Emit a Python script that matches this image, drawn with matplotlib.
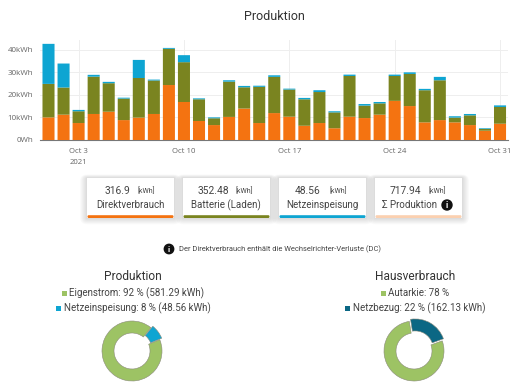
import matplotlib
matplotlib.use("Agg")
import matplotlib.pyplot as plt
from matplotlib.patches import Rectangle, Circle, FancyBboxPatch
import numpy as np

plt.rcParams['font.family'] = ['Roboto', 'DejaVu Sans']

# daily values in kWh
days = list(range(1, 32))
direkt = [10.0, 11.2, 7.5, 11.5, 12.5, 8.8, 9.9, 11.5, 24.3, 16.8, 8.4, 6.6, 10.2, 13.9, 7.5, 11.9,
          10.3, 6.3, 7.5, 5.2, 10.3, 9.7, 11.2, 17.3, 15.0, 7.8, 8.8, 7.8, 6.6, 4.1, 7.2]
batterie = [14.8, 12.0, 5.2, 16.5, 12.6, 9.5, 17.5, 14.8, 16.0, 17.6, 9.6, 3.0, 15.6, 9.4, 16.0, 16.0,
            12.0, 11.7, 13.7, 7.0, 18.0, 5.5, 5.0, 11.0, 14.2, 14.2, 17.6, 2.1, 4.3, 0.8, 7.4]
netz = [17.7, 10.6, 0.6, 0.8, 0.6, 0.4, 8.0, 0.4, 0.4, 3.1, 0.4, 0.4, 0.6, 0.6, 0.5, 0.7,
        0.4, 0.6, 0.8, 0.5, 0.6, 0.7, 0.6, 0.6, 0.7, 0.6, 1.5, 0.6, 0.6, 0.3, 0.7]
tick_days = [3, 10, 17, 24, 31]
tick_labels = ['Oct 3\n2021', 'Oct 10', 'Oct 17', 'Oct 24', 'Oct 31']
y_ticks = [0, 10, 20, 30, 40]
y_labels = ['0Wh', '10kWh', '20kWh', '30kWh', '40kWh']

card_values = ['316.9', '352.48', '48.56', '717.94']
card_names = ['Direktverbrauch', 'Batterie (Laden)', 'Netzeinspeisung', 'Σ Produktion']
prod_shares = [92, 8]
haus_shares = [78, 22]

ORANGE = '#f47311'
OLIVE = '#7a8420'
BLUE = '#0ea5d2'
GREEN = '#9dc364'
PETROL = '#0b6784'
TEXT = '#444444'

W, H = 520, 385
fig = plt.figure(figsize=(W / 100, H / 100), dpi=100)


def px_axes(x0, y0, x1, y1):
    # axes from pixel box, y measured from the top
    return fig.add_axes([x0 / W, 1 - y1 / H, (x1 - x0) / W, (y1 - y0) / H])


# page layer in pixel coordinates
bg = fig.add_axes([0, 0, 1, 1])
bg.set_xlim(0, W)
bg.set_ylim(H, 0)
bg.axis('off')

bg.text(274, 16, 'Produktion', ha='center', va='center', fontsize=9, color='#333333')


def info_icon(x, y, r):
    bg.add_patch(Circle((x, y), r, color='#111111', zorder=5))
    bg.text(x, y, 'i', ha='center', va='center', fontsize=r * 1.25, color='white',
            fontweight='bold', zorder=6)


# stat cards
card_x = [87, 183, 279, 375]
card_w = 87
stripe = [ORANGE, OLIVE, BLUE, '#fbd0b0']
value_x = [117, 213, 308, 405]
unit_x = [146, 244, 338, 437]
name_x = [130, 226, 322, 409]
for i in range(4):
    x = card_x[i]
    # soft shadow, mostly under the card, faint on the other sides
    for grow in range(7, 0, -1):
        bg.add_patch(FancyBboxPatch((x - grow, 178 - grow * 0.5), card_w + 2 * grow, 40 + grow * 1.4,
                                    boxstyle='round,pad=0,rounding_size=%d' % grow,
                                    color='black', alpha=0.02, lw=0))
    bg.add_patch(Rectangle((x, 178), card_w, 40, color='white', lw=0))
    bg.add_patch(FancyBboxPatch((x + 0.5, 215.2), card_w - 1, 2.8, boxstyle='round,pad=0,rounding_size=1.2',
                                color=stripe[i], lw=0))
    bg.text(value_x[i], 191, card_values[i], ha='center', va='center', fontsize=7.4, color=TEXT)
    bg.text(unit_x[i], 191.5, '[kWh]', ha='center', va='center', fontsize=5, color=TEXT)
    bg.text(name_x[i], 205, card_names[i], ha='center', va='center', fontsize=7, color=TEXT)
info_icon(447, 205, 5)

info_icon(169, 249, 4.7)
bg.text(179, 249, 'Der Direktverbrauch enthält die Wechselrichter-Verluste (DC)', ha='left', va='center',
        fontsize=5.4, color=TEXT)

# legends over the donuts
bg.text(133, 276, 'Produktion', ha='center', va='center', fontsize=8.6, color='#333333')
bg.add_patch(Rectangle((61.5, 290.5), 5, 5, color=GREEN, lw=0))
bg.text(69, 293, 'Eigenstrom: 92 % (581.29 kWh)', ha='left', va='center', fontsize=7, color=TEXT)
bg.add_patch(Rectangle((55.5, 305.5), 5, 5, color=BLUE, lw=0))
bg.text(64, 308, 'Netzeinspeisung: 8 % (48.56 kWh)', ha='left', va='center', fontsize=7, color=TEXT)

bg.text(415, 276, 'Hausverbrauch', ha='center', va='center', fontsize=8.6, color='#333333')
bg.add_patch(Rectangle((381, 290.5), 5, 5, color=GREEN, lw=0))
bg.text(388, 293, 'Autarkie: 78 %', ha='left', va='center', fontsize=7, color=TEXT)
bg.add_patch(Rectangle((345, 305.5), 5, 5, color=PETROL, lw=0))
bg.text(353, 308, 'Netzbezug: 22 % (162.13 kWh)', ha='left', va='center', fontsize=7, color=TEXT)

# stacked bars
ax = px_axes(40, 40, 508, 140)
d = np.array(direkt)
b = np.array(batterie)
n = np.array(netz)
# no snapping, the thin blue caps vanish otherwise
ax.bar(days, d, width=0.8, color=ORANGE, zorder=3, snap=False)
ax.bar(days, b, width=0.8, bottom=d, color=OLIVE, zorder=3, snap=False)
ax.bar(days, n, width=0.8, bottom=d + b, color=BLUE, zorder=3, snap=False)
ax.set_xlim(0.435, 31.53)
ax.set_ylim(0, 44.2)
ax.set_xticks(tick_days)
ax.set_xticklabels(tick_labels, fontsize=5.6, color='#666666', family=['Open Sans', 'DejaVu Sans'], linespacing=1.75)
ax.set_yticks(y_ticks)
ax.set_yticklabels(y_labels, fontsize=5.8, color='#666666', family=['Open Sans', 'DejaVu Sans'])
ax.tick_params(axis='y', length=0, pad=5)
ax.tick_params(axis='x', length=0, pad=6)
ax.grid(color='#eeeeee', lw=0.7, zorder=0)
ax.set_axisbelow(True)
for s in ['top', 'right', 'left']:
    ax.spines[s].set_visible(False)
ax.spines['bottom'].set_color('#777777')
ax.spines['bottom'].set_linewidth(0.8)
ax.patch.set_alpha(0)


def donut(cx, cy, vals, colors, start, pull):
    a = px_axes(cx - 40, cy - 40, cx + 40, cy + 40)
    a.pie(vals, colors=colors, startangle=start, explode=pull, radius=30 / 40,
          wedgeprops=dict(width=12 / 40, edgecolor='#8a8a7a', linewidth=0.4))
    a.set_xlim(-1, 1)
    a.set_ylim(-1, 1)
    a.patch.set_alpha(0)


donut(132, 351, prod_shares, [GREEN, BLUE], 51, [0, 0.06])
donut(414, 351, haus_shares, [GREEN, PETROL], 99, [0, 0.06])

fig.savefig('out.png', dpi=100)
